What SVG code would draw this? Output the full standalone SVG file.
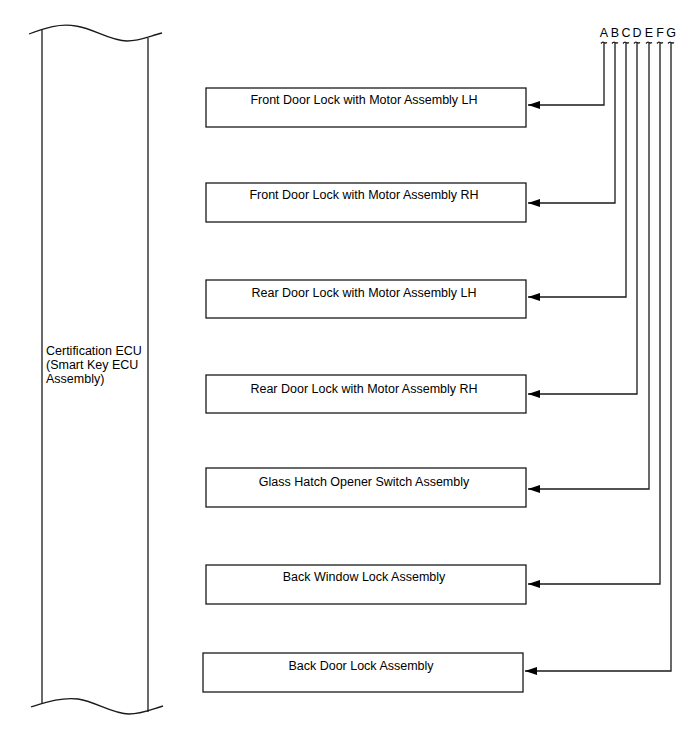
<svg xmlns="http://www.w3.org/2000/svg" width="688" height="755" viewBox="0 0 688 755">
<style>
.ln{fill:none;stroke:#1a1a1a;stroke-width:1.3}
.bx{fill:#fff;stroke:#1a1a1a;stroke-width:1.3}
.t{font-family:"Liberation Sans",Arial,sans-serif;font-size:12.5px;fill:#000}
.c{text-anchor:middle}
</style>
<defs>
<marker id="ah" markerWidth="12" markerHeight="8" refX="12" refY="4" orient="auto" markerUnits="userSpaceOnUse">
<path d="M0,0 L12,4 L0,8 Z" fill="#000"/>
</marker>
</defs>
<rect width="688" height="755" fill="#fff"/>
<g id="ecu">
<path class="ln" d="M29,34 C45,28 60,23 76,26 C95,29 110,41 127,41 C140,41 150,36 162,33"/>
<path class="ln" d="M31,707 C47,702 62,697 78,699 C97,702 112,714 129,714 C142,714 152,709 163,706"/>
<line class="ln" x1="42" y1="30" x2="42" y2="703"/>
<line class="ln" x1="148" y1="38" x2="148" y2="712"/>
<text class="t" x="46" y="355">Certification ECU</text>
<text class="t" x="46" y="369">(Smart Key ECU</text>
<text class="t" x="46" y="383">Assembly)</text>
</g>
<g id="n1"><rect class="bx" x="206" y="88" width="320" height="39"/><text class="t c" x="364" y="104">Front Door Lock with Motor Assembly LH</text></g>
<g id="n2"><rect class="bx" x="206" y="183" width="320" height="39"/><text class="t c" x="364" y="199">Front Door Lock with Motor Assembly RH</text></g>
<g id="n3"><rect class="bx" x="206" y="280" width="320" height="38"/><text class="t c" x="364" y="297">Rear Door Lock with Motor Assembly LH</text></g>
<g id="n4"><rect class="bx" x="206" y="375" width="320" height="38"/><text class="t c" x="364" y="393">Rear Door Lock with Motor Assembly RH</text></g>
<g id="n5"><rect class="bx" x="206" y="468" width="320" height="39"/><text class="t c" x="364" y="486">Glass Hatch Opener Switch Assembly</text></g>
<g id="n6"><rect class="bx" x="206" y="565" width="320" height="39"/><text class="t c" x="364" y="581">Back Window Lock Assembly</text></g>
<g id="n7"><rect class="bx" x="203" y="653" width="320" height="39"/><text class="t c" x="361" y="670">Back Door Lock Assembly</text></g>
<g id="labels">
<text class="t c" x="604" y="37">A</text>
<text class="t c" x="615" y="37">B</text>
<text class="t c" x="626" y="37">C</text>
<text class="t c" x="637" y="37">D</text>
<text class="t c" x="649" y="37">E</text>
<text class="t c" x="660" y="37">F</text>
<text class="t c" x="671" y="37">G</text>
</g>
<g id="connectors">
<path class="ln" d="M601,43.5 q1.5,-2 3,-1 q1.5,1 3,0 M612,43.5 q1.5,-2 3,-1 q1.5,1 3,0 M623,43.5 q1.5,-2 3,-1 q1.5,1 3,0 M634,43.5 q1.5,-2 3,-1 q1.5,1 3,0 M646,43.5 q1.5,-2 3,-1 q1.5,1 3,0 M657,43.5 q1.5,-2 3,-1 q1.5,1 3,0 M668,43.5 q1.5,-2 3,-1 q1.5,1 3,0"/>
<path class="ln" marker-end="url(#ah)" d="M604,43 V105 H528"/>
<path class="ln" marker-end="url(#ah)" d="M615,43 V203 H528"/>
<path class="ln" marker-end="url(#ah)" d="M626,43 V297 H528"/>
<path class="ln" marker-end="url(#ah)" d="M637,43 V394 H528"/>
<path class="ln" marker-end="url(#ah)" d="M649,43 V489 H528"/>
<path class="ln" marker-end="url(#ah)" d="M660,43 V584 H528"/>
<path class="ln" marker-end="url(#ah)" d="M671,43 V671 H525"/>
</g>
</svg>
